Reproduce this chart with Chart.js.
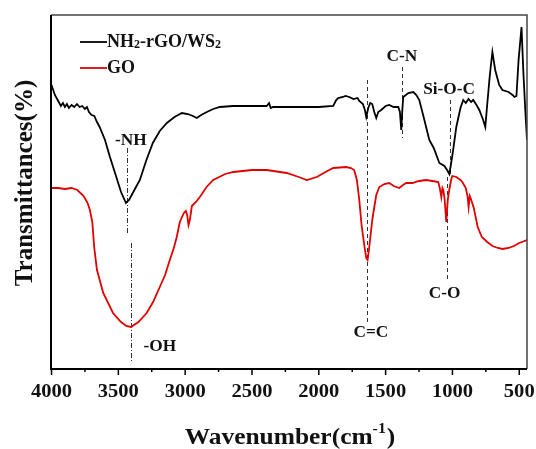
<!DOCTYPE html>
<html>
<head>
<meta charset="utf-8">
<script src="https://cdn.jsdelivr.net/npm/chart.js@4.4.1/dist/chart.umd.min.js"></script>
<style>
  html, body { margin: 0; padding: 0; background: #fff; }
  #wrap { width: 536px; height: 449px; position: relative; }
</style>
</head>
<body>
<div id="wrap"><canvas id="ftir"></canvas></div>
<script>
// ---------------------------------------------------------
// DATA (wavenumber in cm-1, transmittance in arbitrary units)
// ---------------------------------------------------------
const seriesNames = ['NH2-rGO/WS2', 'GO'];

const wnBlack = [4000, 3975, 3950, 3930, 3915, 3900, 3885, 3870, 3850, 3830, 3810, 3790, 3770, 3750, 3735, 3720, 3700, 3680, 3660, 3640,
  3600, 3563, 3520, 3480, 3443, 3420, 3380, 3339, 3290, 3242, 3190, 3137, 3080, 3025, 2980, 2942, 2913, 2880, 2838, 2790,
  2740, 2643, 2500, 2390, 2372, 2360, 2343, 2200, 2000, 1892, 1870, 1855, 1820, 1800, 1772, 1740, 1710, 1697, 1670, 1655,
  1645, 1630, 1615, 1600, 1585, 1570, 1555, 1533, 1500, 1473, 1440, 1405, 1393, 1383, 1375, 1368, 1330, 1293, 1270, 1248,
  1210, 1173, 1140, 1098, 1060, 1040, 1023, 1000, 971, 940, 919, 900, 880, 860, 844, 820, 799, 770, 754, 740,
  720, 701, 680, 650, 626, 580, 550, 536, 521, 505, 483, 470, 455, 442];
const tBlack = [284, 274, 268, 263, 266, 262, 265, 261, 264, 262, 265, 262, 263, 260, 262, 257, 254, 253, 247, 242,
  229, 212, 194, 177, 166, 169, 179, 189, 209, 226, 238, 246, 252, 256, 255, 253, 251, 254, 257, 260,
  262, 263, 263, 263, 266, 261, 262, 262, 262, 263, 269, 271, 272, 273, 272, 270, 271, 268, 265, 259,
  252, 261, 266, 265, 257, 251, 257, 259, 263, 264, 262, 262, 257, 239, 259, 272, 276, 277, 274, 269,
  249, 229, 221, 206, 203, 199, 195, 214, 242, 261, 269, 266, 270, 267, 269, 264, 259, 249, 242, 264,
  294, 317, 299, 284, 279, 277, 274, 272, 273, 309, 342, 299, 259, 229];

const wnRed = [4000, 3950, 3900, 3850, 3807, 3760, 3730, 3713, 3695, 3680, 3660, 3613, 3540, 3480, 3440, 3405, 3350, 3288, 3240, 3190,
  3150, 3115, 3085, 3063, 3040, 3010, 2995, 2985, 2975, 2965, 2950, 2920, 2890, 2840, 2790, 2700, 2640, 2500, 2390, 2240,
  2150, 2090, 2015, 1950, 1892, 1795, 1760, 1735, 1715, 1697, 1680, 1660, 1645, 1635, 1625, 1610, 1600, 1592, 1570, 1547,
  1510, 1473, 1440, 1398, 1370, 1345, 1300, 1250, 1195, 1150, 1106, 1095, 1083, 1075, 1068, 1058, 1046, 1035, 1024, 1010,
  1001, 970, 940, 926, 900, 886, 879, 870, 864, 840, 811, 780, 740, 700, 660, 625, 580, 540, 500, 442];
const tRed = [181, 181, 180, 181, 179, 173, 166, 159, 147, 121, 99, 76, 56, 47, 43, 42, 47, 56, 67, 82,
  94, 109, 121, 132, 147, 156, 158, 154, 144, 149, 163, 167, 172, 182, 189, 195, 197, 199, 199, 196,
  192, 189, 192, 197, 201, 202, 201, 199, 189, 169, 144, 124, 111, 109, 119, 137, 149, 156, 174, 182,
  185, 186, 183, 181, 184, 186, 186, 188, 189, 188, 187, 181, 172, 181, 179, 169, 147, 169, 179, 189,
  193, 192, 189, 187, 181, 172, 162, 173, 171, 161, 142, 132, 127, 123, 121, 120, 121, 123, 126, 129];

const xTicks = [4000, 3500, 3000, 2500, 2000, 1500, 1000, 500];
const xMinorTicks = [3750, 3250, 2750, 2250, 1750, 1250, 750];

// band assignments: wavenumber of the marker line, its vertical extent, and the label spot
const bands = [
  { text: '-NH',    wn: 3437, y0: 221, y1: 136, lx: 3407, ly: 228, dash: [5, 2, 1, 2] },
  { text: '-OH',    wn: 3406, y0: 126, y1: 7,   lx: 3189, ly: 22,  dash: [5, 2, 1, 2] },
  { text: 'C=C',    wn: 1640, y0: 289, y1: 46,  lx: 1610, ly: 36,  dash: [4, 3] },
  { text: 'C-N',    wn: 1378, y0: 302, y1: 231, lx: 1378, ly: 312, dash: [4, 3] },
  { text: 'Si-O-C', wn: 1019, y0: 269, y1: 192, lx: 1025, ly: 279, dash: [4, 3] },
  { text: 'C-O',    wn: 1041, y0: 192, y1: 87,  lx: 1058, ly: 75,  dash: [4, 3] }
];

const FONT = '"Liberation Serif", "Times New Roman", serif';

function toPoints(xs, ys) {
  return xs.map((x, i) => ({ x: x, y: ys[i] }));
}

// draw text slightly widened, like the original export
function wideText(ctx, text, x, y, sx) {
  ctx.save();
  ctx.translate(x, y);
  ctx.scale(sx, 1);
  ctx.fillText(text, 0, 0);
  ctx.restore();
}

// ---------------------------------------------------------
// PLUGIN: frame, ticks, titles, legend, band markers
// ---------------------------------------------------------
const decorPlugin = {
  id: 'decor',
  beforeDatasetsDraw(chart) {
    const ctx = chart.ctx;
    const xs = chart.scales.x, ys = chart.scales.y;
    ctx.save();
    ctx.strokeStyle = '#333';
    ctx.lineWidth = 1;
    bands.forEach(b => {
      const px = Math.round(xs.getPixelForValue(b.wn)) + 0.5;
      ctx.setLineDash(b.dash);
      ctx.beginPath();
      ctx.moveTo(px, ys.getPixelForValue(b.y0));
      ctx.lineTo(px, ys.getPixelForValue(b.y1));
      ctx.stroke();
    });
    ctx.restore();
  },
  afterDatasetsDraw(chart) {
    const ctx = chart.ctx;
    const xs = chart.scales.x, ys = chart.scales.y;
    const a = chart.chartArea;
    ctx.save();

    // band labels
    ctx.fillStyle = '#111';
    ctx.font = 'bold 16px ' + FONT;
    ctx.textAlign = 'center';
    ctx.textBaseline = 'middle';
    bands.forEach(b => {
      wideText(ctx, b.text, xs.getPixelForValue(b.lx), ys.getPixelForValue(b.ly), 1.08);
    });

    // legend
    const colors = ['#000', '#e00000'];
    ctx.textAlign = 'left';
    seriesNames.forEach((name, i) => {
      const ly = 42 + i * 26;
      ctx.strokeStyle = colors[i];
      ctx.lineWidth = 1.8;
      ctx.beginPath();
      ctx.moveTo(80, ly);
      ctx.lineTo(107, ly);
      ctx.stroke();
      ctx.fillStyle = '#111';
      if (i === 0) {
        // NH2-rGO/WS2 with subscript 2s
        let x = 107;
        const parts = [['NH', false], ['2', true], ['-rGO/WS', false], ['2', true]];
        parts.forEach(p => {
          ctx.font = p[1] ? 'bold 12px ' + FONT : 'bold 18px ' + FONT;
          ctx.fillText(p[0], x, p[1] ? ly + 3 : ly);
          x += ctx.measureText(p[0]).width;
        });
      } else {
        ctx.font = 'bold 18px ' + FONT;
        ctx.fillText(name, 107, ly);
      }
    });

    // frame
    ctx.strokeStyle = '#444';
    ctx.lineWidth = 1.5;
    ctx.beginPath();
    ctx.moveTo(a.left, a.top);
    ctx.lineTo(a.right, a.top);
    ctx.lineTo(a.right, a.bottom);
    ctx.stroke();
    ctx.strokeStyle = '#000';
    ctx.lineWidth = 2;
    ctx.beginPath();
    ctx.moveTo(a.left, a.top);
    ctx.lineTo(a.left, a.bottom);
    ctx.lineTo(a.right, a.bottom);
    ctx.stroke();

    // x ticks
    ctx.lineWidth = 1.5;
    xTicks.forEach(v => {
      const px = xs.getPixelForValue(v);
      ctx.beginPath();
      ctx.moveTo(px, a.bottom);
      ctx.lineTo(px, a.bottom + 6);
      ctx.stroke();
    });
    xMinorTicks.forEach(v => {
      const px = xs.getPixelForValue(v);
      ctx.beginPath();
      ctx.moveTo(px, a.bottom);
      ctx.lineTo(px, a.bottom + 3);
      ctx.stroke();
    });
    ctx.fillStyle = '#111';
    ctx.font = 'bold 19px ' + FONT;
    ctx.textAlign = 'center';
    ctx.textBaseline = 'alphabetic';
    xTicks.forEach(v => {
      wideText(ctx, String(v), xs.getPixelForValue(v), 397, 1.08);
    });

    // x title with superscript
    const t1 = 'Wavenumber(cm', t2 = '-1', t3 = ')';
    const sx = 1.06;
    ctx.font = 'bold 24px ' + FONT;
    const w1 = ctx.measureText(t1).width * sx, w3 = ctx.measureText(t3).width * sx;
    ctx.font = 'bold 15px ' + FONT;
    const w2 = ctx.measureText(t2).width * sx + 1;
    const tx = 290 - (w1 + w2 + w3) / 2;
    ctx.textAlign = 'left';
    ctx.font = 'bold 24px ' + FONT;
    wideText(ctx, t1, tx, 444, sx);
    ctx.font = 'bold 15px ' + FONT;
    wideText(ctx, t2, tx + w1, 433, sx);
    ctx.font = 'bold 24px ' + FONT;
    wideText(ctx, t3, tx + w1 + w2, 444, sx);

    // y title
    ctx.translate(26, 183);
    ctx.rotate(-Math.PI / 2);
    ctx.textAlign = 'center';
    ctx.textBaseline = 'middle';
    ctx.font = 'bold 25px ' + FONT;
    ctx.fillText('Transmittances(%)', 0, 0);
    ctx.restore();
  }
};

// ---------------------------------------------------------
// CHART
// ---------------------------------------------------------
new Chart(document.getElementById('ftir'), {
  type: 'line',
  data: {
    datasets: [
      { label: seriesNames[0], data: toPoints(wnBlack, tBlack), borderColor: '#000', borderWidth: 1.8, pointRadius: 0, tension: 0 },
      { label: seriesNames[1], data: toPoints(wnRed, tRed), borderColor: '#e00000', borderWidth: 1.8, pointRadius: 0, tension: 0 }
    ]
  },
  options: {
    responsive: true,
    maintainAspectRatio: false,
    animation: false,
    events: [],
    layout: { padding: { top: 15, right: 9, left: 0, bottom: 0 } },
    plugins: { legend: { display: false }, tooltip: { enabled: false } },
    scales: {
      x: {
        type: 'linear',
        reverse: true,
        min: 442,
        max: 4004,
        grid: { display: false },
        border: { display: false },
        ticks: { display: false },
        afterFit: s => { s.height = 80; }
      },
      y: {
        min: 0,
        max: 354,
        grid: { display: false },
        border: { display: false },
        ticks: { display: false },
        afterFit: s => { s.width = 51; }
      }
    }
  },
  plugins: [decorPlugin]
});
</script>
</body>
</html>
